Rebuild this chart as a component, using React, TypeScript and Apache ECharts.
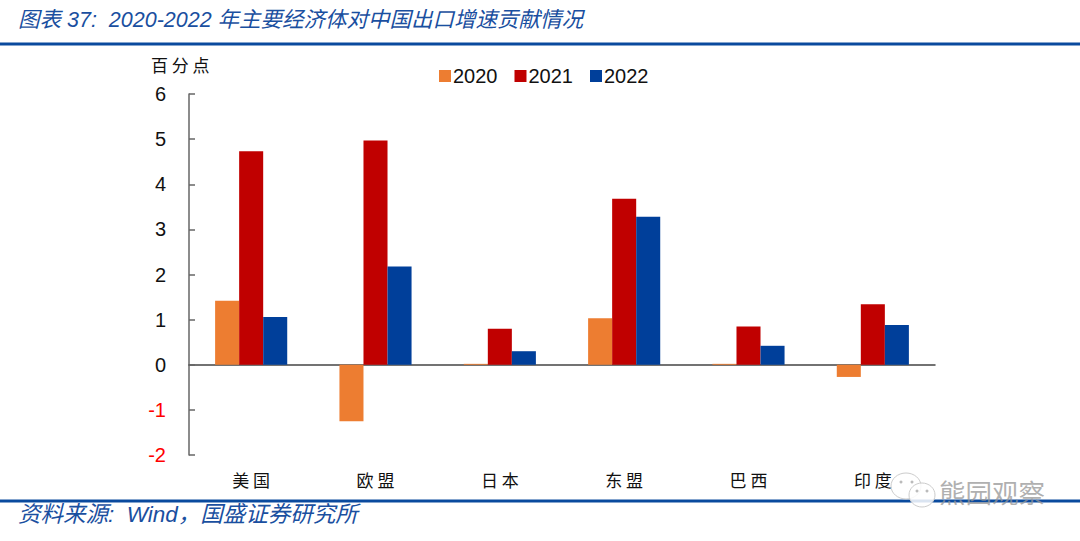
import React, { useEffect, useRef } from "react";
import * as echarts from "echarts";

const categories = ["美国", "欧盟", "日本", "东盟", "巴西", "印度"];
const years = ["2020", "2021", "2022"];
const values2020 = [1.42, -1.25, 0.02, 1.03, 0.02, -0.27];
const values2021 = [4.73, 4.97, 0.8, 3.68, 0.85, 1.34];
const values2022 = [1.06, 2.18, 0.3, 3.28, 0.42, 0.88];
const colors = ["#ED7D31", "#C00000", "#003F9A"];
const titleText = "图表 37:  2020-2022 年主要经济体对中国出口增速贡献情况";
const sourceText = "资料来源:  Wind\uFF0C国盛证券研究所";
const unitText = "百分点";
const watermark = "熊园观察";

const CJK = '"Liberation Sans", "Noto Sans CJK SC", sans-serif';

export default function App() {
  const ref = useRef<HTMLDivElement>(null);
  useEffect(() => {
    document.body.style.margin = "0";
    const chart = echarts.init(ref.current!, undefined, { renderer: "svg" });
    const seriesValues = [values2020, values2021, values2022];
    chart.setOption({
      animation: false,
      backgroundColor: "#ffffff",
      grid: { left: 189, right: 145, top: 94, bottom: 86, containLabel: false, outerBoundsMode: "none" },
      legend: {
        left: 434,
        top: 61,
        data: years,
        icon: "rect",
        itemWidth: 12,
        itemHeight: 12,
        itemGap: 17,
        textStyle: { fontFamily: "Liberation Sans", fontSize: 20, color: "#111", padding: [0, 0, 0, -3] },
      },
      xAxis: {
        type: "category",
        data: categories,
        axisLine: { onZero: true, lineStyle: { color: "#444", width: 1.5 } },
        axisTick: { show: false },
        axisLabel: {
          margin: 16,
          interval: 0,
          fontFamily: "Noto Sans CJK SC",
          fontSize: 17,
          color: "#111",
          formatter: (v: string) => v.split("").join(" "),
        },
      },
      yAxis: {
        type: "value",
        min: -2,
        max: 6,
        interval: 1,
        splitLine: { show: false },
        axisLine: { show: true, onZero: false, lineStyle: { color: "#666", width: 1.5 } },
        axisTick: { show: true, inside: true, length: 6, lineStyle: { color: "#666", width: 1.5 } },
        axisLabel: {
          margin: 23,
          fontFamily: "Liberation Sans",
          fontSize: 20,
          color: (v: any) => (Number(v) < 0 ? "#FF0000" : "#111"),
        },
      },
      series: years.map((name, i) => ({
        name,
        type: "bar",
        data: seriesValues[i],
        barGap: "0%",
        barCategoryGap: "42%",
        itemStyle: { color: colors[i] },
      })),
      graphic: [
        {
          type: "text",
          x: 18,
          y: 9,
          style: { text: titleText, font: `italic 21.5px ${CJK}`, fill: "#1A4FA0" },
        },
        { type: "rect", shape: { x: 0, y: 42.5, width: 1080, height: 3 }, style: { fill: "#0A4A9E" } },
        {
          type: "text",
          x: 151,
          y: 56,
          style: { text: unitText.split("").join(" "), font: '17px "Noto Sans CJK SC"', fill: "#111" },
        },
        { type: "rect", shape: { x: 0, y: 499.5, width: 1080, height: 3 }, style: { fill: "#0A4A9E" } },
        {
          type: "text",
          x: 18,
          y: 503,
          style: { text: sourceText, font: `italic 22.5px ${CJK}`, fill: "#1A4FA0" },
        },
        // WeChat-style watermark
        { type: "ellipse", shape: { cx: 906, cy: 486, rx: 15, ry: 13 }, style: { fill: "rgba(255,255,255,0.75)", stroke: "#ccc", lineWidth: 1 } },
        { type: "ellipse", shape: { cx: 922, cy: 495, rx: 13, ry: 12 }, style: { fill: "rgba(255,255,255,0.85)", stroke: "#ccc", lineWidth: 1 } },
        { type: "circle", shape: { cx: 901, cy: 482, r: 1.5 }, style: { fill: "#bbb" } },
        { type: "circle", shape: { cx: 912, cy: 482, r: 1.5 }, style: { fill: "#bbb" } },
        { type: "circle", shape: { cx: 917, cy: 491, r: 1.5 }, style: { fill: "#bbb" } },
        { type: "circle", shape: { cx: 927, cy: 491, r: 1.5 }, style: { fill: "#bbb" } },
        {
          type: "text",
          x: 939,
          y: 478,
          style: { text: watermark, font: '26.5px "Noto Sans CJK SC"', fill: "rgba(150,150,150,0.75)" },
        },
      ],
    });
    return () => chart.dispose();
  }, []);
  return <div ref={ref} style={{ width: 1080, height: 541 }} />;
}
